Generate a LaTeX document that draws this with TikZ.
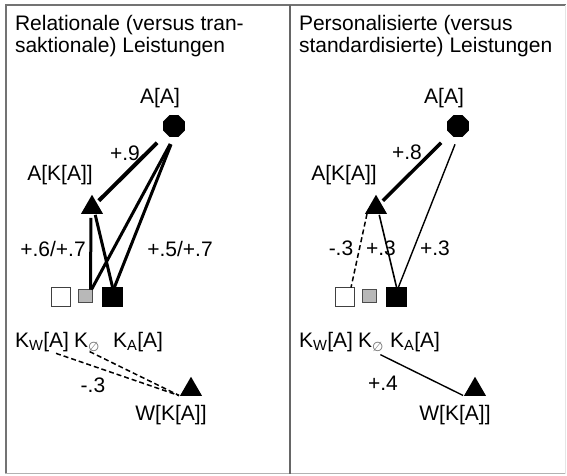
\documentclass[tikz,border=0pt]{standalone}
\usepackage{fontspec}
\setmainfont{Liberation Sans}
\newfontfamily\symfam{DejaVu Sans}
\usetikzlibrary{shapes.geometric}
\newcommand{\emptysub}{\raisebox{-4.5pt}{\fontsize{13}{13}\selectfont\symfam\color{black!55}∅}}
\begin{document}
\begin{tikzpicture}[x=1pt,y=-1pt,
  lbl/.style={font=\fontsize{21}{24}\selectfont, inner sep=0pt, outer sep=0pt, anchor=base},
  lblw/.style={lbl, anchor=base west},
  octnode/.style={regular polygon, regular polygon sides=8, fill=black, minimum size=23.5pt, inner sep=0pt, outer sep=0pt},
  trinode/.style={regular polygon, regular polygon sides=3, fill=black, minimum size=25.5pt, inner sep=0pt, outer sep=0pt},
  sqwhite/.style={draw=black!75, fill=white, line width=1.2pt, minimum width=19pt, minimum height=19pt, inner sep=0pt, outer sep=0pt},
  sqgray/.style={draw=black!70, fill=black!28, line width=1pt, minimum width=14pt, minimum height=13pt, inner sep=0pt, outer sep=0pt},
  sqblack/.style={fill=black, minimum width=21pt, minimum height=20pt, inner sep=0pt, outer sep=0pt},
  thickline/.style={line width=4pt},
  medline/.style={line width=3pt},
  thinline/.style={line width=1.4pt},
  dashline/.style={line width=1.5pt, dash pattern=on 5pt off 3pt},
  frameline/.style={draw=black!55}
]
\useasboundingbox (0,0) rectangle (567,475);
% frame
\draw[frameline, line width=2pt] (5,5) -- (566,5);
\draw[frameline, line width=2.5pt] (6,5) -- (6,474);
\draw[draw=black!30, line width=1pt] (5,473.5) -- (566,473.5);
\draw[draw=black!10, line width=1pt] (565.5,5) -- (565.5,473.5);
\draw[draw=black!60, line width=1.2pt] (290,5) -- (290,473.5);

% ---------- left panel ----------
\node[lblw] (t1a) at (15,30) {Relationale (versus tran-};
\node[lblw] (t1b) at (15,52) {saktionale) Leistungen};

\node[lbl] (laa) at (160,103) {A[A]};
\node[octnode] (oct1) at (174,126) {};
\node[lbl] (lak) at (60,180) {A[K[A]]};
\node[trinode] (tri1) at (92,207.5) {};
\node[sqwhite] (sw1) at (61,297) {};
\node[sqgray] (sg1) at (85.5,296) {};
\node[sqblack] (sb1) at (112.5,297) {};

\draw[thickline, shorten <=13pt, shorten >=3pt] (oct1) -- (tri1);
\draw[medline, shorten <=8pt] (oct1.south) -- ([xshift=-1pt]sg1.north east);
\draw[medline, shorten <=8pt] (oct1.south) -- ([xshift=2pt]sb1.north);
\draw[medline, shorten <=4pt] ([xshift=-1pt]tri1.south) -- ([xshift=-2pt]sg1.north east);
\draw[medline, shorten <=1pt] ([xshift=3pt]tri1.south) -- (sb1.north);

\node[lbl] (l9) at (125,160) {+.9};
\node[lbl] (l67) at (53,256) {+.6/+.7};
\node[lbl] (l57) at (180,256) {+.5/+.7};

\node[lblw] (kw1) at (15,347) {K\textsubscript{W}[A]};
\node[lblw] (k01) at (74,347) {K\emptysub};
\node[lblw] (ka1) at (113,347) {K\textsubscript{A}[A]};

\node[trinode] (wt1) at (191,389.5) {};
\node[lbl] (wk1) at (171,420) {W[K[A]]};
\node[lbl] (lm3) at (93,392) {-.3};

\draw[dashline, shorten >=1pt] ([xshift=14pt,yshift=-2pt]kw1.south) -- (wt1.corner 2);
\draw[dashline, shorten >=1pt] ([xshift=3pt,yshift=0pt]k01.south) -- (wt1.corner 2);

% ---------- right panel ----------
\node[lblw] (t2a) at (299,30) {Personalisierte (versus};
\node[lblw] (t2b) at (299,52) {standardisierte) Leistungen};

\node[lbl] (raa) at (444,103) {A[A]};
\node[octnode] (oct2) at (458,126) {};
\node[lbl] (rak) at (344,180) {A[K[A]]};
\node[trinode] (tri2) at (376,207.5) {};
\node[sqwhite] (sw2) at (345,297) {};
\node[sqgray] (sg2) at (369.5,296) {};
\node[sqblack] (sb2) at (396.5,297) {};

\node[lbl] (r8) at (407,159) {+.8};
\node[lbl] (rm3) at (341,255) {-.3};
\node[lbl] (rp3a) at (381,255) {+.3};
\node[lbl] (rp3b) at (435,255) {+.3};

\draw[line width=3.5pt, shorten <=13pt, shorten >=3pt] (oct2) -- (tri2);
\draw[thinline, shorten <=8pt] (oct2.south) -- ([xshift=2pt]sb2.north);
\draw[dashline] ([xshift=-9pt]tri2.south) -- ([xshift=6pt]sw2.north);
\draw[line width=1.6pt, shorten <=1pt] ([xshift=3pt]tri2.south) -- (sb2.north);

\node[lblw] (kw2) at (299,347) {K\textsubscript{W}[A]};
\node[lblw] (k02) at (358,347) {K\emptysub};
\node[lblw] (ka2) at (390,347) {K\textsubscript{A}[A]};

\node[trinode] (wt2) at (475,389.5) {};
\node[lbl] (wk2) at (455,420) {W[K[A]]};
\node[lbl] (r4) at (383,390) {+.4};

\draw[thinline, shorten >=1pt] ([xshift=-3pt,yshift=-3pt]k02.south east) -- (wt2.corner 2);
\end{tikzpicture}
\end{document}
